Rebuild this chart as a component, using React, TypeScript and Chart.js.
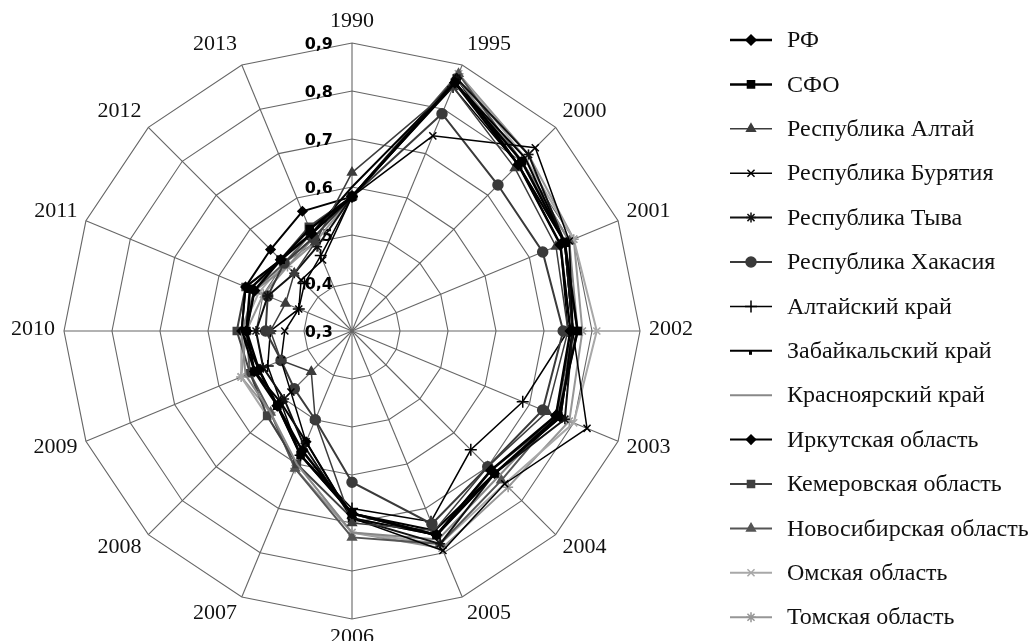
import React, { useEffect, useRef } from 'react';
import { Chart, registerables } from 'chart.js';
import { drawPoint } from 'chart.js/helpers';

Chart.register(...registerables);

const CATEGORIES = ['1990', '1995', '2000', '2001', '2002', '2003', '2004', '2005', '2006', '2007', '2008', '2009', '2010', '2011', '2012', '2013'];
const TICK_VALUES = [0.3, 0.4, 0.5, 0.6, 0.7, 0.8, 0.9];
const TICK_LABELS = ['0,3', '0,4', '0,5', '0,6', '0,7', '0,8', '0,9'];

const SERIES_NAMES = [
  'РФ', 'СФО', 'Республика Алтай', 'Республика Бурятия', 'Республика Тыва', 'Республика Хакасия',
  'Алтайский край', 'Забайкальский край', 'Красноярский край', 'Иркутская область',
  'Кемеровская область', 'Новосибирская область', 'Омская область', 'Томская область',
];

const RF = [0.58, 0.86, 0.79, 0.77, 0.755, 0.76, 0.71, 0.76, 0.68, 0.57, 0.52, 0.51, 0.52, 0.52, 0.51, 0.52];
const SFO = [0.58, 0.86, 0.80, 0.78, 0.77, 0.765, 0.72, 0.76, 0.68, 0.58, 0.52, 0.52, 0.52, 0.53, 0.51, 0.53];
const ALTAI = [0.63, 0.85, 0.78, 0.76, 0.75, 0.74, 0.70, 0.75, 0.70, 0.50, 0.42, 0.46, 0.47, 0.45, 0.47, 0.50];
const BURYATIA = [0.58, 0.74, 0.84, 0.79, 0.76, 0.83, 0.75, 0.795, 0.69, 0.55, 0.48, 0.46, 0.44, 0.42, 0.45, 0.46];
const TYVA = [0.58, 0.87, 0.82, 0.78, 0.76, 0.78, 0.72, 0.78, 0.69, 0.56, 0.50, 0.50, 0.50, 0.49, 0.47, 0.49];
const KHAKASIA = [0.58, 0.79, 0.73, 0.73, 0.74, 0.73, 0.70, 0.735, 0.615, 0.50, 0.47, 0.46, 0.48, 0.49, 0.50, 0.51];
const ALTAI_KRAI = [0.58, 0.85, 0.79, 0.77, 0.75, 0.685, 0.65, 0.73, 0.67, 0.58, 0.51, 0.49, 0.47, 0.42, 0.44, 0.47];
const ZABAIKAL = [0.60, 0.86, 0.81, 0.78, 0.76, 0.77, 0.72, 0.75, 0.68, 0.58, 0.52, 0.51, 0.53, 0.54, 0.51, 0.52];
const KRASNOYARSK = [0.58, 0.87, 0.80, 0.79, 0.77, 0.76, 0.73, 0.77, 0.72, 0.60, 0.54, 0.54, 0.53, 0.52, 0.49, 0.51];
const IRKUTSK = [0.58, 0.87, 0.79, 0.78, 0.76, 0.77, 0.72, 0.76, 0.69, 0.55, 0.51, 0.52, 0.53, 0.54, 0.54, 0.57];
const KEMEROVO = [0.58, 0.87, 0.79, 0.78, 0.77, 0.765, 0.71, 0.76, 0.69, 0.60, 0.55, 0.53, 0.54, 0.54, 0.51, 0.535];
const NOVOSIBIRSK = [0.58, 0.88, 0.80, 0.79, 0.76, 0.76, 0.74, 0.78, 0.73, 0.61, 0.54, 0.53, 0.52, 0.52, 0.50, 0.52];
const OMSK = [0.58, 0.88, 0.81, 0.80, 0.81, 0.80, 0.75, 0.78, 0.72, 0.60, 0.55, 0.55, 0.53, 0.51, 0.50, 0.51];
const TOMSK = [0.58, 0.88, 0.82, 0.80, 0.78, 0.79, 0.76, 0.79, 0.72, 0.61, 0.54, 0.55, 0.52, 0.50, 0.49, 0.50];

const SERIES_VALUES = [RF, SFO, ALTAI, BURYATIA, TYVA, KHAKASIA, ALTAI_KRAI, ZABAIKAL, KRASNOYARSK, IRKUTSK, KEMEROVO, NOVOSIBIRSK, OMSK, TOMSK];

// styles (kept separate from data)
const STYLES = [
  { color: '#000000', width: 2.5, point: 'rectRot', radius: 5 },
  { color: '#000000', width: 2.5, point: 'rect', radius: 5 },
  { color: '#3c3c3c', width: 1.5, point: 'triangle', radius: 5 },
  { color: '#000000', width: 1.5, point: 'crossRot', radius: 5 },
  { color: '#111111', width: 2, point: 'star', radius: 5 },
  { color: '#3a3a3a', width: 2, point: 'circle', radius: 5 },
  { color: '#000000', width: 1.5, point: 'cross', radius: 6 },
  { color: '#000000', width: 2, point: 'line', radius: 0 },
  { color: '#888888', width: 2, point: 'circle', radius: 0 },
  { color: '#000000', width: 2, point: 'rectRot', radius: 4.5 },
  { color: '#404040', width: 2, point: 'rect', radius: 5 },
  { color: '#555555', width: 2, point: 'triangle', radius: 5 },
  { color: '#a8a8a8', width: 2, point: 'crossRot', radius: 5 },
  { color: '#969696', width: 2, point: 'star', radius: 5 },
];

const CX = 352;
const CY = 331;
const R = 288;
const W = 1029;
const H = 641;

const textPlugin = {
  id: 'radarTexts',
  beforeDatasetsDraw(chart: any) {
    const scale = chart.scales.r;
    const ctx = chart.ctx;
    ctx.save();
    // tick labels
    ctx.font = 'bold 16px "DejaVu Sans", sans-serif';
    ctx.fillStyle = '#000';
    ctx.textAlign = 'right';
    ctx.textBaseline = 'middle';
    TICK_VALUES.forEach((v, i) => {
      const d = scale.getDistanceFromCenterForValue(v);
      ctx.fillText(TICK_LABELS[i], scale.xCenter - 19, scale.yCenter - d + 2);
    });
    // point labels
    ctx.font = '22px "Liberation Serif", serif';
    ctx.fillStyle = '#111';
    ctx.textAlign = 'center';
    ctx.textBaseline = 'middle';
    CATEGORIES.forEach((lab, i) => {
      const p = scale.getPointPosition(i, scale.drawingArea);
      const dx = (p.x - scale.xCenter) / scale.drawingArea;
      const dy = (p.y - scale.yCenter) / scale.drawingArea;
      const w = ctx.measureText(lab).width;
      let ox = dx * 7;
      if (Math.abs(dx) > 0.1) ox += Math.sign(dx) * (w / 2 + 2);
      const oy = dy * 20 - 2;
      ctx.fillText(lab, p.x + ox, p.y + oy);
    });
    ctx.restore();
  },
  afterDraw(chart: any) {
    const ctx = chart.ctx;
    ctx.save();
    chart.data.datasets.forEach((ds: any, i: number) => {
      const y = 40 + 44.4 * i;
      const st = STYLES[i];
      ctx.strokeStyle = st.color;
      ctx.lineWidth = st.width;
      ctx.beginPath();
      ctx.moveTo(730, y);
      ctx.lineTo(772, y);
      ctx.stroke();
      if (st.radius > 0) {
        ctx.fillStyle = st.color;
        ctx.strokeStyle = st.color;
        ctx.lineWidth = 1.5;
        drawPoint(ctx, { pointStyle: st.point, radius: st.radius, rotation: 0, borderWidth: 1.5 } as any, 751, y);
      } else if (st.point === 'line') {
        ctx.fillStyle = st.color;
        ctx.fillRect(749, y, 3, 4);
      }
      ctx.font = '24px "Liberation Serif", serif';
      ctx.fillStyle = '#111';
      ctx.textAlign = 'left';
      ctx.textBaseline = 'middle';
      ctx.fillText(ds.label, 787, y + 1);
    });
    ctx.restore();
  },
};

export default function App() {
  const ref = useRef<HTMLCanvasElement | null>(null);
  useEffect(() => {
    if (!ref.current) return;
    const datasets = SERIES_VALUES.map((vals, i) => ({
      label: SERIES_NAMES[i],
      data: vals,
      borderColor: STYLES[i].color,
      backgroundColor: STYLES[i].color,
      borderWidth: STYLES[i].width,
      pointStyle: STYLES[i].point,
      pointRadius: STYLES[i].radius,
      pointBorderWidth: 1.5,
      pointBorderColor: STYLES[i].color,
      pointBackgroundColor: STYLES[i].color,
      fill: false,
      tension: 0,
    }));
    const chart = new Chart(ref.current, {
      type: 'radar',
      data: { labels: CATEGORIES, datasets },
      options: {
        responsive: false,
        animation: false,
        layout: { padding: { left: CX - R, top: CY - R, right: W - (CX + R), bottom: H - (CY + R) } },
        plugins: { legend: { display: false }, tooltip: { enabled: false } },
        scales: {
          r: {
            min: 0.3,
            max: 0.9,
            ticks: { display: false, stepSize: 0.1 },
            pointLabels: { display: false },
            grid: { color: '#666666', lineWidth: 1.1 },
            angleLines: { color: '#666666', lineWidth: 1.1 },
          },
        },
      } as any,
      plugins: [textPlugin],
    });
    return () => chart.destroy();
  }, []);
  return (
    <div style={{ position: 'absolute', left: 0, top: 0, width: W, height: H, background: '#fff' }}>
      <canvas ref={ref} width={W} height={H} style={{ width: W, height: H, display: 'block' }} />
    </div>
  );
}
